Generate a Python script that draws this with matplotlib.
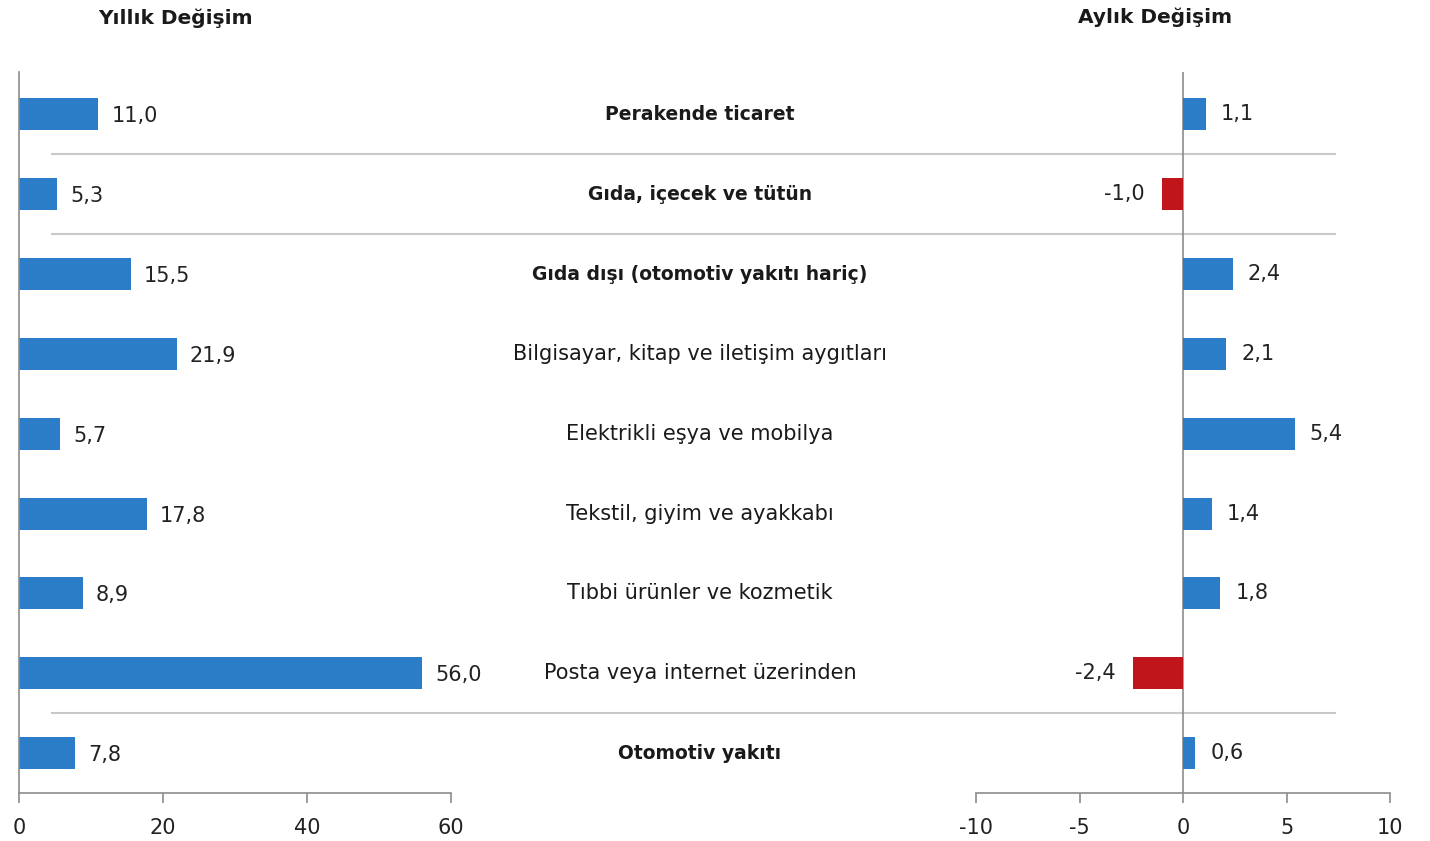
import matplotlib
matplotlib.use("Agg")
import matplotlib.pyplot as plt
from matplotlib.transforms import blended_transform_factory

plt.rcParams["axes.unicode_minus"] = False

categories = ["Perakende ticaret", "Gıda, içecek ve tütün", "Gıda dışı (otomotiv yakıtı hariç)",
              "Bilgisayar, kitap ve iletişim aygıtları", "Elektrikli eşya ve mobilya",
              "Tekstil, giyim ve ayakkabı", "Tıbbi ürünler ve kozmetik",
              "Posta veya internet üzerinden", "Otomotiv yakıtı"]
bold_rows = [True, True, True, False, False, False, False, False, True]
yearly = [11.0, 5.3, 15.5, 21.9, 5.7, 17.8, 8.9, 56.0, 7.8]
monthly = [1.1, -1.0, 2.4, 2.1, 5.4, 1.4, 1.8, -2.4, 0.6]
left_ticks = [0, 20, 40, 60]
right_ticks = [-10, -5, 0, 5, 10]
titles = ["Yıllık Değişim", "Aylık Değişim"]

BLUE = "#2a7dc6"
RED = "#c0161b"
GRAY = "#8c8c8c"
FONT = "DejaVu Sans"
FS_BOLD = 13.5
FS_NORM = 15
FS_VAL = 15

W, H = 1430, 841
fig = plt.figure(figsize=(W / 100, H / 100), dpi=100)
fig.patch.set_facecolor("white")

def fx(px):
    return px / W

def fy(py):
    return 1 - py / H

bottom = fy(793)
height = fy(72) - fy(793)
ax1 = fig.add_axes([fx(19), bottom, fx(451) - fx(19), height])
ax2 = fig.add_axes([fx(976), bottom, fx(1390) - fx(976), height])

ypos = list(range(len(categories)))

def fmt(v):
    return f"{v:.1f}".replace(".", ",")

for ax in (ax1, ax2):
    ax.set_ylim(8.5, -0.53)
    ax.set_yticks([])
    for s in ("top", "right"):
        ax.spines[s].set_visible(False)
    ax.spines["bottom"].set_color(GRAY)
    ax.spines["bottom"].set_linewidth(1.2)
    ax.tick_params(axis="x", direction="out", length=7, width=1.2, color=GRAY,
                   labelsize=FS_VAL, labelcolor="#222222", pad=11)
    ax.set_facecolor("none")

# Left panel
ax1.barh(ypos, yearly, height=0.4, color=BLUE)
ax1.set_xlim(0, 60)
ax1.set_xticks(left_ticks)
ax1.spines["left"].set_color(GRAY)
ax1.spines["left"].set_linewidth(1.2)
for y, v in zip(ypos, yearly):
    ax1.annotate(fmt(v), (v, y), xytext=(13, -2), textcoords="offset pixels",
                 ha="left", va="center", fontsize=FS_VAL, family=FONT, color="#222222")

# Right panel
colors = [BLUE if v >= 0 else RED for v in monthly]
ax2.barh(ypos, monthly, height=0.4, color=colors)
ax2.set_xlim(-10, 10)
ax2.set_xticks(right_ticks)
ax2.spines["left"].set_visible(False)
ax2.axvline(0, color=GRAY, lw=1.2, zorder=0.5)
for y, v in zip(ypos, monthly):
    if v >= 0:
        ax2.annotate(fmt(v), (v, y), xytext=(15, 0), textcoords="offset pixels",
                     ha="left", va="center", fontsize=FS_VAL, family=FONT, color="#222222")
    else:
        ax2.annotate(fmt(v), (v, y), xytext=(-18, 0), textcoords="offset pixels",
                     ha="right", va="center", fontsize=FS_VAL, family=FONT, color="#222222")

for ax in (ax1, ax2):
    for lab in ax.get_xticklabels():
        lab.set_fontfamily(FONT)

# Category labels and separators
tr = blended_transform_factory(fig.transFigure, ax1.transData)
for y, name, b in zip(ypos, categories, bold_rows):
    ax1.text(fx(700), y, name, transform=tr, ha="center", va="center",
             fontsize=FS_BOLD if b else FS_NORM, family=FONT,
             fontweight="bold" if b else "normal",
             color="#1a1a1a", clip_on=False)

for a, b in [(0, 1), (1, 2), (7, 8)]:
    ymid = (a + b) / 2
    ax1.plot([fx(52), fx(1335)], [ymid, ymid], transform=tr, color="#c8c8c8",
             lw=1.5, clip_on=False, zorder=0)

fig.text(fx(176), fy(18), titles[0], ha="center", va="center", fontsize=14.5,
         fontweight="bold", family=FONT, color="#1a1a1a")
fig.text(fx(1155), fy(17), titles[1], ha="center", va="center", fontsize=14.5,
         fontweight="bold", family=FONT, color="#1a1a1a")

fig.savefig("out.png", dpi=100, facecolor="white")
